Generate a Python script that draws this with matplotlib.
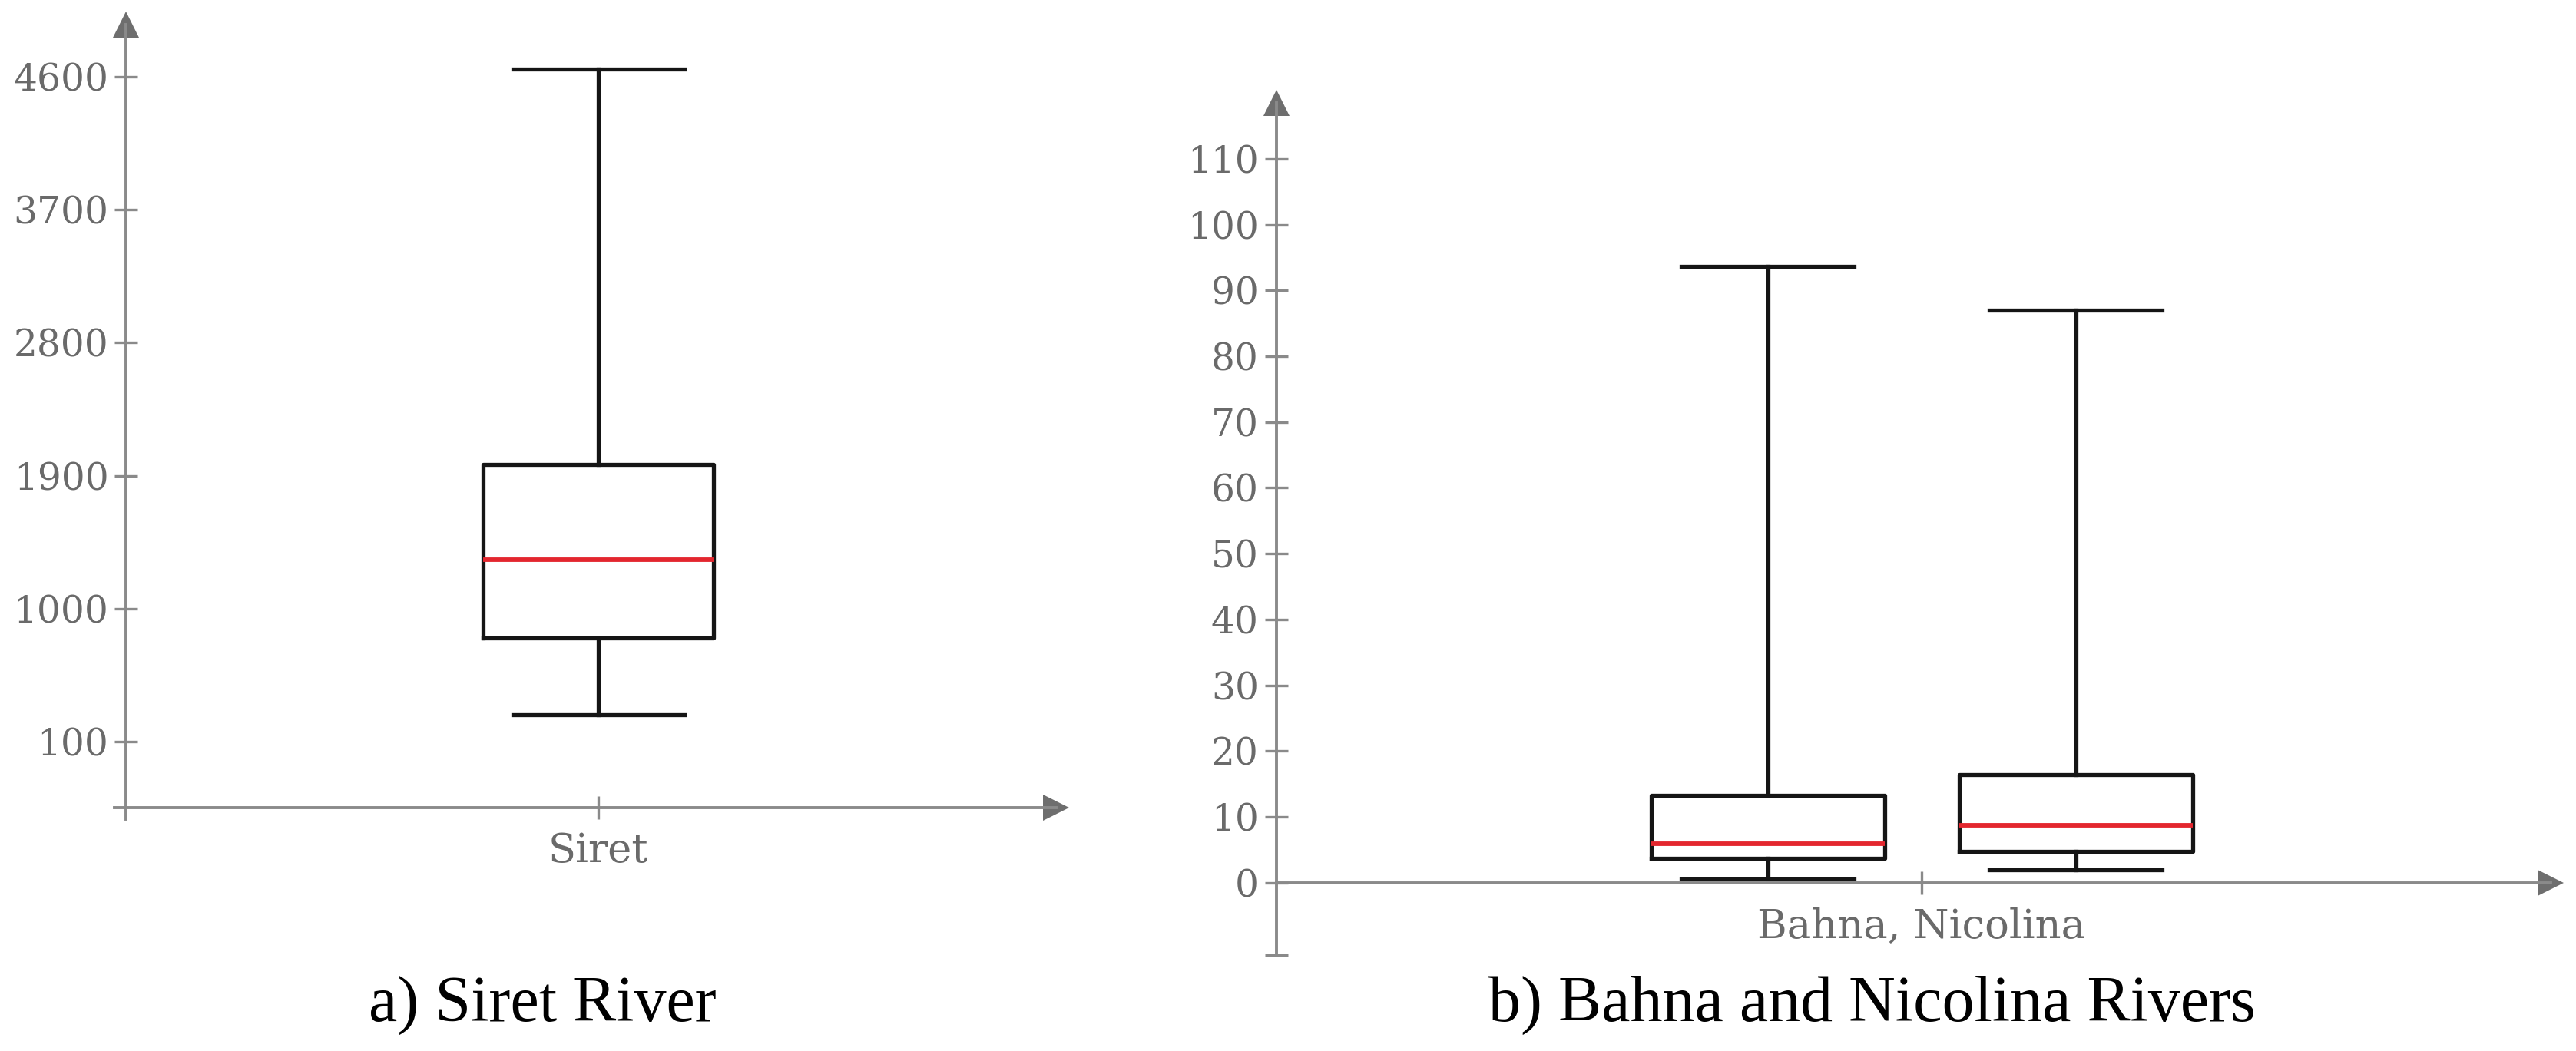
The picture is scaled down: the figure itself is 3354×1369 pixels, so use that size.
import matplotlib
matplotlib.use("Agg")
import matplotlib.pyplot as plt

# values
siret_names = ["Siret"]
siret_stats = dict(whislo=280, q1=800, med=1330, q3=1975, whishi=4650)
siret_ticks = [100, 1000, 1900, 2800, 3700, 4600]

small_names = ["Bahna, Nicolina"]
bahna_stats = dict(whislo=0.5, q1=3.7, med=5.9, q3=13.3, whishi=93.6)
nicolina_stats = dict(whislo=1.9, q1=4.7, med=8.7, q3=16.4, whishi=87.0)
small_ticks = [0, 10, 20, 30, 40, 50, 60, 70, 80, 90, 100, 110]

captions = ["a) Siret River", "b) Bahna and Nicolina Rivers"]

AXIS_GREY = "#8a8a8a"
ARROW_GREY = "#6e6e6e"
TEXT_GREY = "#6a6a6a"
BOX_COLOR = "#151515"
MEDIAN_RED = "#e3262e"

plt.rcParams["font.family"] = ["DejaVu Serif"]


def draw_boxes(ax, stats, positions, width, capwidth):
    for s in stats:
        s.setdefault("fliers", [])
    ax.bxp(stats, positions=positions, widths=width, capwidths=capwidth,
           showfliers=False, manage_ticks=False,
           boxprops=dict(color=BOX_COLOR, lw=3.8),
           whiskerprops=dict(color=BOX_COLOR, lw=3.8),
           capprops=dict(color=BOX_COLOR, lw=3.8),
           medianprops=dict(color=MEDIAN_RED, lw=4.2))


def style_axes(ax, x0, y0):
    ax.spines["top"].set_visible(False)
    ax.spines["right"].set_visible(False)
    ax.spines["left"].set_position(("data", x0))
    ax.spines["bottom"].set_position(("data", y0))
    for side in ("left", "bottom"):
        ax.spines[side].set_color(AXIS_GREY)
        ax.spines[side].set_linewidth(2.8)
    ax.tick_params(which="both", direction="inout", length=21, width=2.4,
                   color=AXIS_GREY, labelcolor=TEXT_GREY, labelsize=35)
    ax.tick_params(axis="y", pad=6)
    ax.tick_params(axis="x", pad=12, labelsize=38)
    ax.set_facecolor("none")
    # arrow heads at the axis ends
    ax.plot(1, y0, ">", transform=ax.get_yaxis_transform(), clip_on=False,
            ms=25, color=ARROW_GREY, mew=0)
    ax.plot(x0, 1, "^", transform=ax.get_xaxis_transform(), clip_on=False,
            ms=25, color=ARROW_GREY, mew=0)


fig = plt.figure(figsize=(33.54, 13.69), dpi=100)

# a) Siret
ax1 = fig.add_axes([0.0445, 0.2206, 0.3655, 0.7557])
draw_boxes(ax1, [siret_stats], [1.0], 0.488, 0.362)
ax1.set_xlim(-0.0245, 1.969)
ax1.set_ylim(-425, 4951)
ax1.set_yticks(siret_ticks)
ax1.set_xticks([1.0])
ax1.set_xticklabels(siret_names)
style_axes(ax1, 0, -347)

# b) Bahna and Nicolina
ax2 = fig.add_axes([0.4955, 0.0913, 0.4946, 0.8108])
draw_boxes(ax2, [bahna_stats, nicolina_stats], [0.762, 1.239], 0.362, 0.268)
ax2.set_xlim(0, 1.975)
ax2.set_ylim(-11, 118.5)
ax2.set_yticks(small_ticks)
ax2.set_yticks([-11], minor=True)
ax2.set_xticks([1.0])
ax2.set_xticklabels(small_names)
style_axes(ax2, 0, 0)

fig.text(0.2105, 1 - 1330 / 1369, captions[0], ha="center", va="baseline",
         fontsize=60.5, family=["Liberation Serif"], color="black")
fig.text(0.7266, 1 - 1330 / 1369, captions[1], ha="center", va="baseline",
         fontsize=60.5, family=["Liberation Serif"], color="black")

fig.savefig("out.png", dpi=100)
